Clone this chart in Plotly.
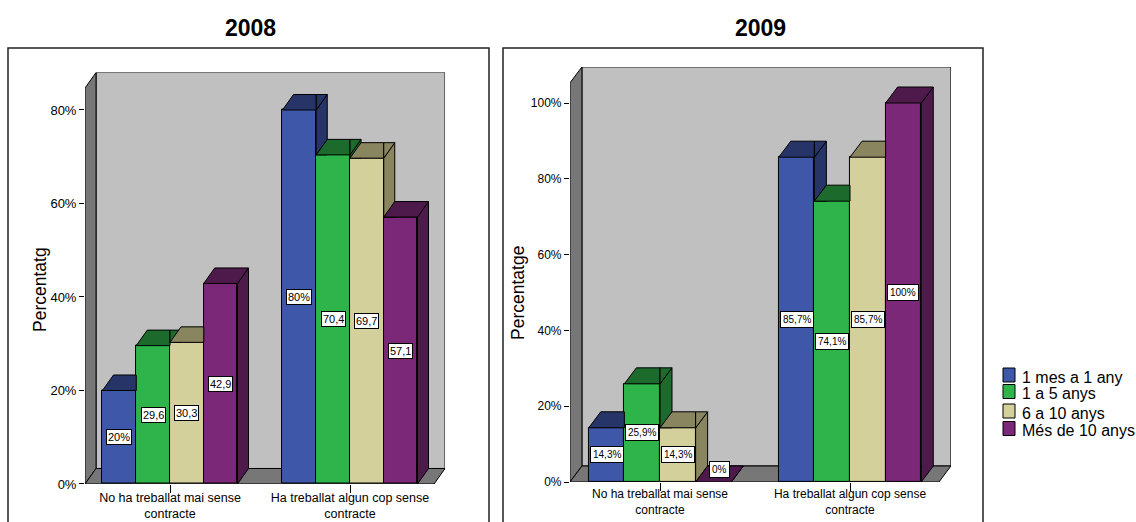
import plotly.graph_objects as go

W, H = 1136, 522

# ---------------- data ----------------
series_names = ["1 mes a 1 any", "1 a 5 anys", "6 a 10 anys", "Més de 10 anys"]
categories = ["No ha treballat mai sense<br>contracte", "Ha treballat algun cop sense<br>contracte"]

v2008_1mes = [20.0, 80.0]
v2008_1a5 = [29.6, 70.4]
v2008_6a10 = [30.3, 69.7]
v2008_mes10 = [42.9, 57.1]

v2009_1mes = [14.3, 85.7]
v2009_1a5 = [25.9, 74.1]
v2009_6a10 = [14.3, 85.7]
v2009_mes10 = [0.0, 100.0]

lab2008_1mes = ["20%", "80%"]
lab2008_1a5 = ["29,6", "70,4"]
lab2008_6a10 = ["30,3", "69,7"]
lab2008_mes10 = ["42,9", "57,1"]

lab2009_1mes = ["14,3%", "85,7%"]
lab2009_1a5 = ["25,9%", "74,1%"]
lab2009_6a10 = ["14,3%", "85,7%"]
lab2009_mes10 = ["0%", "100%"]

yticks_2008 = [0, 20, 40, 60, 80]
yticks_2009 = [0, 20, 40, 60, 80, 100]
ytext_2008 = ["0%", "20%", "40%", "60%", "80%"]
ytext_2009 = ["0%", "20%", "40%", "60%", "80%", "100%"]

# ---------------- styles ----------------
front_cols = ["#3F57A9", "#2EB44B", "#D4D09B", "#7C2879"]
dark_cols = ["#263467", "#1D6B2C", "#88855F", "#4E1A4C"]
FONT = "Liberation Sans, Arial, sans-serif"

panels = [
    dict(name="2008", vals=[v2008_1mes, v2008_1a5, v2008_6a10, v2008_mes10],
         labs=[lab2008_1mes, lab2008_1a5, lab2008_6a10, lab2008_mes10],
         yt=yticks_2008, ytt=ytext_2008, ytitle="Percentatg",
         cx0=170, upx=180, y0=484, vpx=4.675, xf=(-0.472, 1.467), ytop=84.7,
         ddx=11, ddy=15.5, xa="x", ya="y", box=(8, 489), title_x=250, ytitle_x=40, ytitle_y=290,
         lab_font=11, lab_pad=1, xt_font=12.5, xt_stand=-6, yt_font=13),
    dict(name="2009", vals=[v2009_1mes, v2009_1a5, v2009_6a10, v2009_mes10],
         labs=[lab2009_1mes, lab2009_1a5, lab2009_6a10, lab2009_mes10],
         yt=yticks_2009, ytt=ytext_2009, ytitle="Percentatge",
         cx0=660, upx=190, y0=482, vpx=3.79, xf=(-0.474, 1.468), ytop=105.3,
         ddx=12, ddy=16, xa="x2", ya="y2", box=(503, 983), title_x=760, ytitle_x=518, ytitle_y=293,
         lab_font=10, lab_pad=2, xt_font=12, xt_stand=-7, yt_font=12),
]


def clip(poly, a, b, c):
    """Keep part of convex polygon where a*x + b*y <= c."""
    out = []
    n = len(poly)
    for k in range(n):
        p, q = poly[k], poly[(k + 1) % n]
        fp = a * p[0] + b * p[1] - c
        fq = a * q[0] + b * q[1] - c
        if fp <= 0:
            out.append(p)
        if (fp < 0 < fq) or (fq < 0 < fp):
            t = fp / (fp - fq)
            out.append((p[0] + t * (q[0] - p[0]), p[1] + t * (q[1] - p[1])))
    return out


fig = go.Figure()
shapes = []
annotations = []
layout_axes = {}

nser = 4
group_w = 0.75
w = group_w / nser

for pi, P in enumerate(panels):
    dc = P["ddx"] / P["upx"]
    dv = P["ddy"] / P["vpx"]
    xf0, xf1 = P["xf"]
    ytop = P["ytop"]
    xr = [xf0, xf1 + dc]
    yr = [0, ytop + dv]
    xd = [(P["cx0"] + P["upx"] * xr[0]) / W, (P["cx0"] + P["upx"] * xr[1]) / W]
    yd = [1 - P["y0"] / H, 1 - (P["y0"] - P["vpx"] * yr[1]) / H]
    xkey = "xaxis" if P["xa"] == "x" else "xaxis2"
    ykey = "yaxis" if P["ya"] == "y" else "yaxis2"
    layout_axes[xkey] = dict(domain=xd, range=xr, anchor=P["ya"], tickmode="array",
                             tickvals=list(range(len(categories))), ticktext=categories,
                             ticks="outside", ticklen=8, tickcolor="black", tickwidth=1,
                             showgrid=False, automargin=False,
                             zeroline=False, showline=False, ticklabelstandoff=P["xt_stand"],
                             tickfont=dict(family=FONT, size=P["xt_font"], color="black"))
    layout_axes[ykey] = dict(domain=yd, range=yr, anchor=P["xa"], tickmode="array",
                             tickvals=P["yt"], ticktext=P["ytt"], ticks="outside", ticklen=5,
                             tickcolor="black", tickwidth=1, showgrid=False, zeroline=False,
                             showline=False, automargin=False,
                             tickfont=dict(family=FONT, size=P["yt_font"], color="black"))
    xref, yref = P["xa"], P["ya"]
    # walls
    shapes.append(dict(type="rect", xref=xref, yref=yref, x0=xf0 + dc, x1=xf1 + dc, y0=dv, y1=ytop + dv,
                       fillcolor="#C0C0C0", line=dict(color="black", width=1), layer="below"))
    shapes.append(dict(type="path", xref=xref, yref=yref,
                       path=f"M {xf0},0 L {xf0},{ytop} L {xf0+dc},{ytop+dv} L {xf0+dc},{dv} Z",
                       fillcolor="#777777", line=dict(color="black", width=1), layer="below"))
    shapes.append(dict(type="path", xref=xref, yref=yref,
                       path=f"M {xf0},0 L {xf0+dc},{dv} L {xf1+dc},{dv} L {xf1},0 Z",
                       fillcolor="#777777", line=dict(color="black", width=1), layer="below"))
    # panel box
    shapes.append(dict(type="rect", xref="paper", yref="paper", x0=P["box"][0] / W, x1=P["box"][1] / W,
                       y0=-0.1, y1=1 - 48 / H, line=dict(color="#222222", width=1.5)))
    # title
    annotations.append(dict(text=f"<b>{P['name']}</b>", x=P["title_x"] / W, y=1 - 28 / H,
                            xref="paper", yref="paper", showarrow=False,
                            xanchor="center", yanchor="middle",
                            font=dict(family=FONT, size=23, color="black")))
    annotations.append(dict(text=P["ytitle"], x=P["ytitle_x"] / W, y=1 - P["ytitle_y"] / H,
                            xref="paper", yref="paper", showarrow=False, textangle=-90,
                            xanchor="center", yanchor="middle",
                            font=dict(family=FONT, size=17.5, color="black")))

    # bar fronts
    for i in range(nser):
        fig.add_trace(go.Bar(x=list(range(len(categories))), y=P["vals"][i], width=w,
                             offset=-group_w / 2 + i * w, name=series_names[i],
                             marker=dict(color=front_cols[i], line=dict(color="black", width=1)),
                             xaxis=P["xa"], yaxis=P["ya"], showlegend=False,
                             hoverinfo="skip"))
    # 3D faces, drawn left to right
    for j in range(len(categories)):
        for i in range(nser):
            h = P["vals"][i][j]
            x0 = j - group_w / 2 + i * w
            x1 = x0 + w
            side = [(x1, 0), (x1, h), (x1 + dc, h + dv), (x1 + dc, dv)]
            top = [(x0, h), (x0 + dc, h + dv), (x1 + dc, h + dv), (x1, h)]
            pieces = []
            if i < nser - 1:
                hn = P["vals"][i + 1][j]
                for poly in (side, top):
                    a = clip(poly, 1, 0, x1)
                    b = clip(clip(poly, -1, 0, -x1), 0, -1, -hn)
                    for pc in (a, b):
                        if len(pc) >= 3:
                            pieces.append(pc)
            else:
                pieces = [side, top]
            for pc in pieces:
                xs = [p[0] for p in pc] + [pc[0][0]]
                ys = [p[1] for p in pc] + [pc[0][1]]
                fig.add_trace(go.Scatter(x=xs, y=ys, mode="lines", fill="toself",
                                         fillcolor=dark_cols[i], line=dict(color="black", width=1),
                                         xaxis=P["xa"], yaxis=P["ya"], showlegend=False,
                                         hoverinfo="skip"))
            # value label
            ly = h / 2
            lx = x0 + w / 2
            if ly < dv:
                ly = dv * 0.8
                lx += dc / 2
            annotations.append(dict(text=P["labs"][i][j], x=lx, y=ly, xref=xref, yref=yref,
                                    showarrow=False, bgcolor="white", bordercolor="black",
                                    borderwidth=1, borderpad=P["lab_pad"],
                                    xanchor="center", yanchor="middle",
                                    font=dict(family=FONT, size=P["lab_font"], color="black")))

# manual legend (swatches + text) to match the compact original layout
leg_rows_y = [375, 391.5, 411, 428.5]
for i, name in enumerate(series_names):
    yc = leg_rows_y[i]
    shapes.append(dict(type="rect", xref="paper", yref="paper",
                       x0=1003 / W, x1=1015 / W, y0=1 - (yc + 7) / H, y1=1 - (yc - 7) / H,
                       fillcolor=front_cols[i], line=dict(color="black", width=1)))
    annotations.append(dict(text=name, x=1020 / W, y=1 - (yc + 2) / H, xref="paper", yref="paper",
                            showarrow=False, xanchor="left", yanchor="middle",
                            font=dict(family=FONT, size=16, color="black")))

fig.update_layout(
    template="none",
    width=W, height=H, margin=dict(l=0, r=0, t=0, b=0, pad=0, autoexpand=False),
    paper_bgcolor="white", plot_bgcolor="rgba(0,0,0,0)",
    barmode="overlay", bargap=0,
    shapes=shapes, annotations=annotations,
    showlegend=False,
    font=dict(family=FONT, color="black"),
    **layout_axes,
)

fig.write_html("out.html")
